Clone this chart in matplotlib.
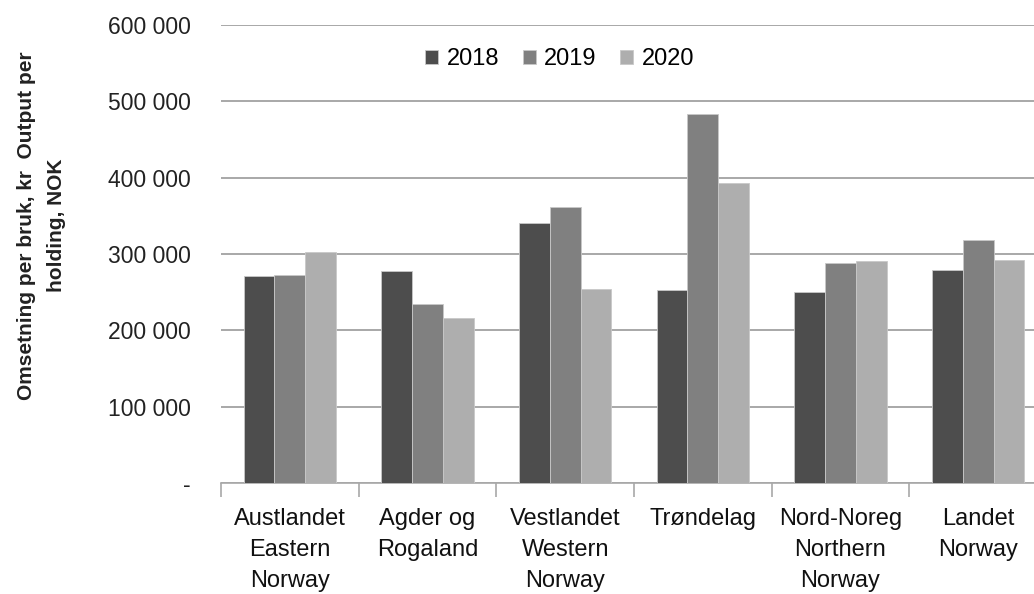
import matplotlib
matplotlib.use("Agg")
import matplotlib.pyplot as plt
import numpy as np

# Data
regions = ["Austlandet\nEastern\nNorway", "Agder og\nRogaland", "Vestlandet\nWestern\nNorway",
           "Trøndelag", "Nord-Noreg\nNorthern\nNorway", "Landet\nNorway"]
years = ["2018", "2019", "2020"]
v2018 = [271000, 278000, 340000, 253000, 250000, 279000]
v2019 = [273000, 235000, 362000, 483500, 288000, 318000]
v2020 = [303000, 216500, 254500, 393000, 291000, 292500]
colors = ["#4d4d4d", "#808080", "#aeaeae"]
yticks = [0, 100000, 200000, 300000, 400000, 500000, 600000]
ytick_labels = ["-", "100 000", "200 000", "300 000", "400 000", "500 000", "600 000"]

plt.rcParams['font.family'] = ["Liberation Sans", "DejaVu Sans"]

fig = plt.figure(figsize=(10.34, 5.94), dpi=100)
ax = fig.add_axes([221 / 1034, 1 - 483 / 594, 826 / 1034, (483 - 25) / 594])

x = np.arange(len(regions))
w = 0.223
for i, (vals, yr) in enumerate(zip([v2018, v2019, v2020], years)):
    ax.bar(x + (i - 1) * w, vals, w, color=colors[i], edgecolor="#c8c8c8",
           linewidth=0.6, label=yr, zorder=3)

ax.set_xlim(-0.5, len(regions) - 0.5)
ax.set_ylim(0, 600000)
ax.set_yticks(yticks)
ax.set_yticklabels(ytick_labels, fontsize=16.5, color="#222222")
ax.yaxis.grid(True, color="#a8a8a8", linewidth=1.4, zorder=0)
ax.tick_params(axis="y", length=0, pad=22)

# category boundary ticks
ax.set_xticks(np.arange(-0.5, len(regions), 1.0), minor=False)
ax.set_xticklabels([])
ax.tick_params(axis="x", which="major", length=10, color="#a8a8a8", width=1.2)
ax.set_xticks(x, minor=True)
ax.set_xticklabels(regions, minor=True, fontsize=17, linespacing=1.53, color="#111111")
ax.tick_params(axis="x", which="minor", length=0, pad=18)

for s in ["top", "right", "left"]:
    ax.spines[s].set_visible(False)
ax.spines["bottom"].set_color("#a8a8a8")
ax.spines["bottom"].set_linewidth(1.2)

leg = ax.legend(loc="center", bbox_to_anchor=(0.41, 0.925), ncol=3, frameon=False,
                fontsize=17, handlelength=0.55, handleheight=0.55, handletextpad=0.35,
                columnspacing=1.0)

fig.text(0.04, 0.62, "Omsetning per bruk, kr  Output per\nholding, NOK", rotation=90,
         ha="center", va="center", fontsize=15, fontweight="bold", linespacing=1.7,
         color="#222222")

fig.savefig("out.png", dpi=100)
